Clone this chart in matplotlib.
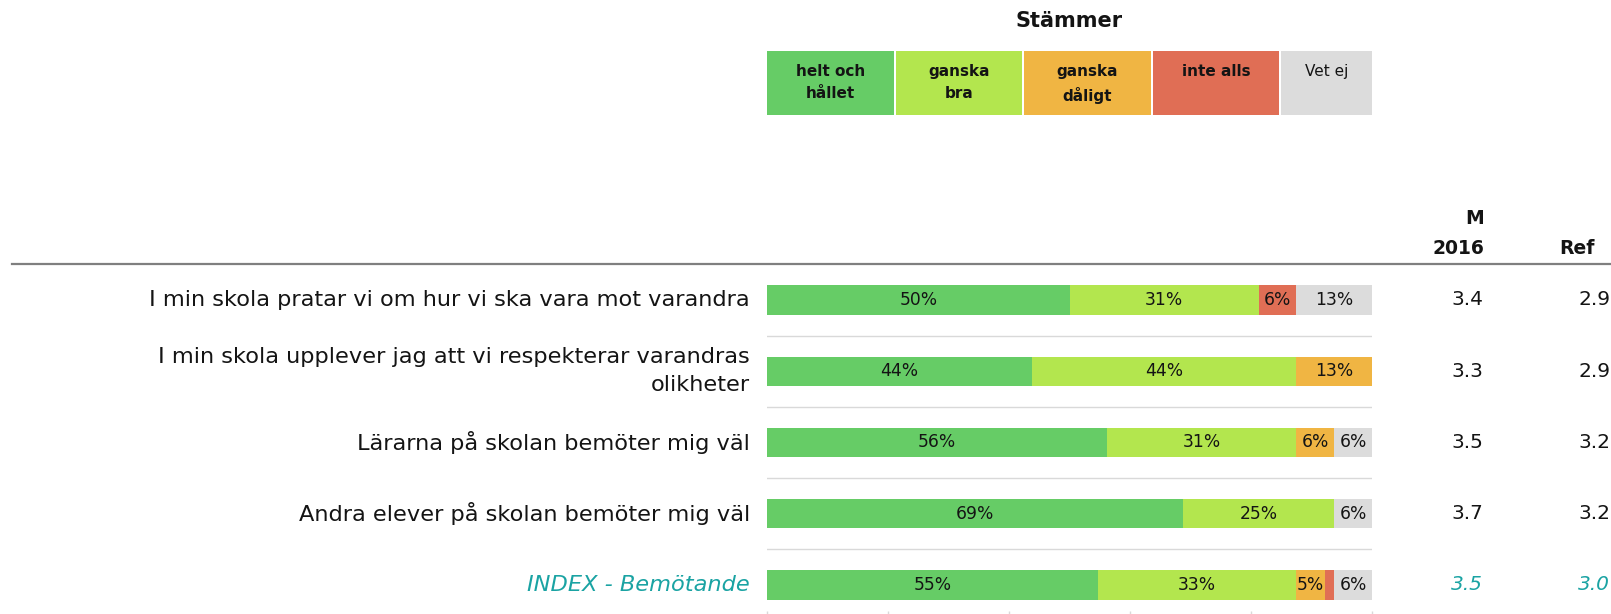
import matplotlib
matplotlib.use("Agg")
import matplotlib.pyplot as plt
from matplotlib.patches import Rectangle
from matplotlib.lines import Line2D
import matplotlib.transforms as mtransforms

# ---------------- data ----------------
questions = [
    "I min skola pratar vi om hur vi ska vara mot varandra",
    "I min skola upplever jag att vi respekterar varandras\nolikheter",
    "Lärarna på skolan bemöter mig väl",
    "Andra elever på skolan bemöter mig väl",
    "INDEX - Bemötande",
]
helt_och_hallet = [50.0, 43.75, 56.25, 68.75, 54.7]
ganska_bra = [31.25, 43.75, 31.25, 25.0, 32.8]
ganska_daligt = [0.0, 12.5, 6.25, 0.0, 4.7]
inte_alls = [6.25, 0.0, 0.0, 0.0, 1.6]
vet_ej = [12.5, 0.0, 6.25, 6.25, 6.2]
m_2016 = ["3.4", "3.3", "3.5", "3.7", "3.5"]
ref_vals = ["2.9", "2.9", "3.2", "3.2", "3.0"]
legend_labels = ["helt och\nhållet", "ganska\nbra", "ganska\ndåligt", "inte alls", "Vet ej"]
legend_title = "Stämmer"
col_header_m = "M"
col_header_year = "2016"
col_header_ref = "Ref"
x_ticks = [0, 20, 40, 60, 80, 100]

series = [helt_och_hallet, ganska_bra, ganska_daligt, inte_alls, vet_ej]
colors = ["#66CC66", "#B3E64E", "#F0B543", "#E06E55", "#DCDCDC"]
teal = "#1AA3A3"
ink = "#141414"

W, H = 1611, 614
fig = plt.figure(figsize=(W / 100, H / 100), dpi=100)
fig.patch.set_facecolor("white")

FONT = "DejaVu Sans"


def fx(px):
    return px / W


def fy(py):
    return 1 - py / H


# ---------------- main axes ----------------
ax = fig.add_axes([fx(767), fy(611), fx(1372) - fx(767), fy(264) - fy(611)])
ax.set_xlim(0, 100)
ax.set_ylim(4.365, -0.505)
for s in ax.spines.values():
    s.set_visible(False)
ax.set_yticks([])
ax.set_xticks(x_ticks)
ax.tick_params(axis="x", length=5, width=1, color="#D9D9D9", labelbottom=False)

ypos = list(range(len(questions)))
lefts = [0.0] * len(questions)
for vals, col in zip(series, colors):
    ax.barh(ypos, vals, left=lefts, height=0.41, color=col, linewidth=0)
    for i, v in enumerate(vals):
        if v >= 3:
            ax.text(lefts[i] + v / 2, i, f"{int(v + 0.5)}%", ha="center", va="center",
                    fontsize=12.3, family=FONT, color=ink)
    lefts = [l + v for l, v in zip(lefts, vals)]

for k in range(len(questions) - 1):
    ax.axhline(k + 0.5, color="#D9D9D9", lw=1)

# labels and values
tr = mtransforms.blended_transform_factory(fig.transFigure, ax.transData)
for i, q in enumerate(questions):
    is_index = i == len(questions) - 1
    c = teal if is_index else ink
    st = "italic" if is_index else "normal"
    ax.text(fx(750), i, q, transform=tr, ha="right", va="center",
            fontsize=16.2, family=FONT, color=c, style=st, linespacing=1.5)
    ax.text(fx(1483), i, m_2016[i], transform=tr, ha="right", va="center",
            fontsize=14.5, family=FONT, color=c, style=st)
    ax.text(fx(1578), i, ref_vals[i], transform=tr, ha="left", va="center",
            fontsize=14.5, family=FONT, color=c, style=st)

# column headers
fig.text(fx(1484), fy(249), col_header_year, ha="right", va="center", fontsize=13.5,
         family=FONT, weight="bold", color=ink)
fig.text(fx(1484), fy(219), col_header_m, ha="right", va="center", fontsize=13.5,
         family=FONT, weight="bold", color=ink)
fig.text(fx(1559), fy(249), col_header_ref, ha="left", va="center", fontsize=13.5,
         family=FONT, weight="bold", color=ink)

# header rule
fig.add_artist(Line2D([fx(12), 1.0], [fy(264), fy(264)], color="#7F7F7F", lw=1.6))

# ---------------- legend ----------------
box_x = [767, 896, 1024, 1153, 1281]
box_w = [127, 126, 127, 126, 91]
for lbl, col, x0, w in zip(legend_labels, colors, box_x, box_w):
    fig.add_artist(Rectangle((fx(x0), fy(115)), w / W, (115 - 51) / H,
                             transform=fig.transFigure, color=col, lw=0))
    fig.text(fx(x0 + w / 2), fy(64), lbl, ha="center", va="top", fontsize=11,
             family=FONT, weight="normal" if lbl == "Vet ej" else "bold",
             color=ink, linespacing=1.55)
fig.text(fx(1069), fy(21), legend_title, ha="center", va="center", fontsize=15,
         family=FONT, weight="bold", color=ink)

fig.savefig("out.png", dpi=100, facecolor="white")
